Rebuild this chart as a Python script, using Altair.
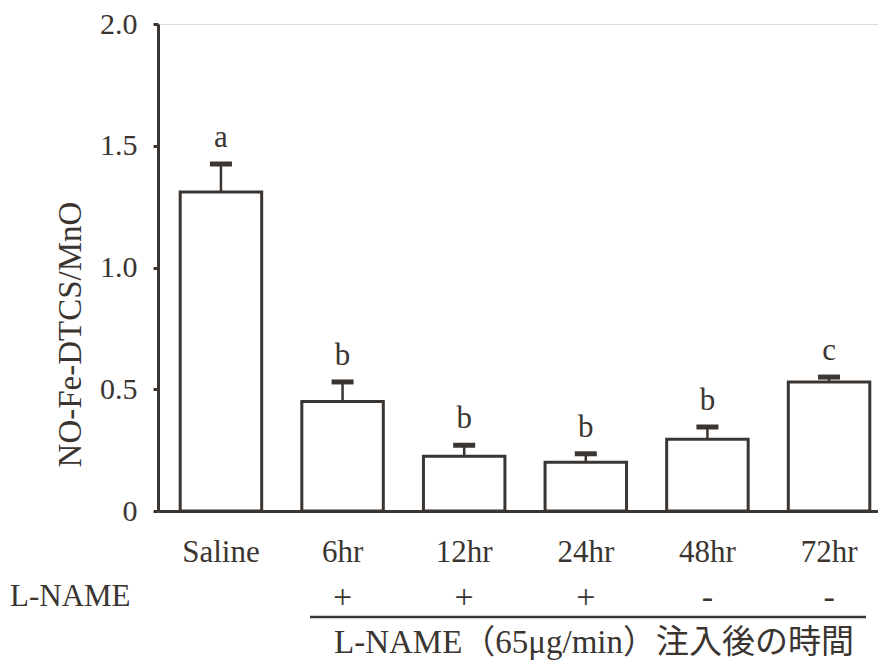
import altair as alt
import pandas as pd

groups = ["Saline", "6hr", "12hr", "24hr", "48hr", "72hr"]
means = [1.31, 0.45, 0.225, 0.20, 0.295, 0.53]
errors = [0.115, 0.08, 0.045, 0.035, 0.05, 0.02]
letters = ["a", "b", "b", "b", "b", "c"]
lname_signs = ["", "+", "+", "+", "-", "-"]
y_ticks = [0, 0.5, 1.0, 1.5, 2.0]

df = pd.DataFrame({
    "group": groups,
    "mean": means,
    "top": [m + e for m, e in zip(means, errors)],
    "letter": letters,
    "sign": lname_signs,
})

INK = "#3a3531"
SERIF = "Times New Roman, Liberation Serif, serif"

xenc = alt.X("group:N", sort=groups,
             scale=alt.Scale(paddingInner=0.33, paddingOuter=0.125, align=0.73),
             axis=alt.Axis(title=None, ticks=False, labelAngle=0, labelPadding=26,
                           labelFontSize=31, labelFont=SERIF, labelColor=INK,
                           domainColor=INK, domainWidth=3))
yscale = alt.Scale(domain=[0, 2.0])
yaxis = alt.Axis(title="NO-Fe-DTCS/MnO", values=y_ticks, grid=False,
                 labelExpr="datum.value == 0 ? '0' : format(datum.value, '.1f')",
                 labelFontSize=30, labelFont=SERIF, labelColor=INK, labelPadding=16,
                 titleFontSize=33, titleFont=SERIF, titleColor=INK, titleFontWeight="normal",
                 titlePadding=12, titleY=310, tickSize=5, tickWidth=3, tickColor=INK,
                 domainColor=INK, domainWidth=3)

base = alt.Chart(df)

bars = base.mark_bar(fill="white", stroke=INK, strokeWidth=3).encode(
    x=xenc,
    y=alt.Y("mean:Q", scale=yscale, axis=yaxis),
)

err_line = base.mark_rule(color=INK, strokeWidth=2.5).encode(
    x=alt.X("group:N", sort=groups),
    y="mean:Q",
    y2="top:Q",
)

err_cap = base.mark_tick(color=INK, size=22, thickness=5, opacity=1).encode(
    x=alt.X("group:N", sort=groups),
    y="top:Q",
)

letter_txt = base.mark_text(font=SERIF, fontSize=31, color=INK, dy=-10, baseline="bottom").encode(
    x=alt.X("group:N", sort=groups),
    y="top:Q",
    text="letter:N",
)

sign_txt = base.mark_text(font=SERIF, fontSize=34, color=INK, baseline="middle").encode(
    x=alt.X("group:N", sort=groups),
    y=alt.value(574),
    text="sign:N",
)

lname_label = alt.Chart(pd.DataFrame({"t": ["L-NAME"]})).mark_text(
    font=SERIF, fontSize=31, color=INK, align="left", baseline="middle"
).encode(x=alt.value(-148), y=alt.value(573), text="t:N")

underline = alt.Chart(pd.DataFrame({"t": [1]})).mark_rule(color=INK, strokeWidth=2.5).encode(
    x=alt.value(152), x2=alt.value(708), y=alt.value(593)
)

caption = alt.Chart(pd.DataFrame({"t": ["L-NAME（65μg/min）注入後の時間"]})).mark_text(
    font="Times New Roman, Liberation Serif, Noto Sans CJK JP, serif", fontSize=33, color=INK,
    align="center", baseline="middle"
).encode(x=alt.value(436), y=alt.value(619), text="t:N")

chart = alt.layer(bars, err_line, err_cap, letter_txt, sign_txt, lname_label, underline, caption).properties(
    width=720, height=487,
    autosize=alt.AutoSizeParams(type="none"),
    padding={"left": 150, "top": 16, "right": 0, "bottom": 149},
).configure_view(stroke=None).configure(background="white")

chart.save("out.html", embed_options={"renderer": "svg", "actions": False})
